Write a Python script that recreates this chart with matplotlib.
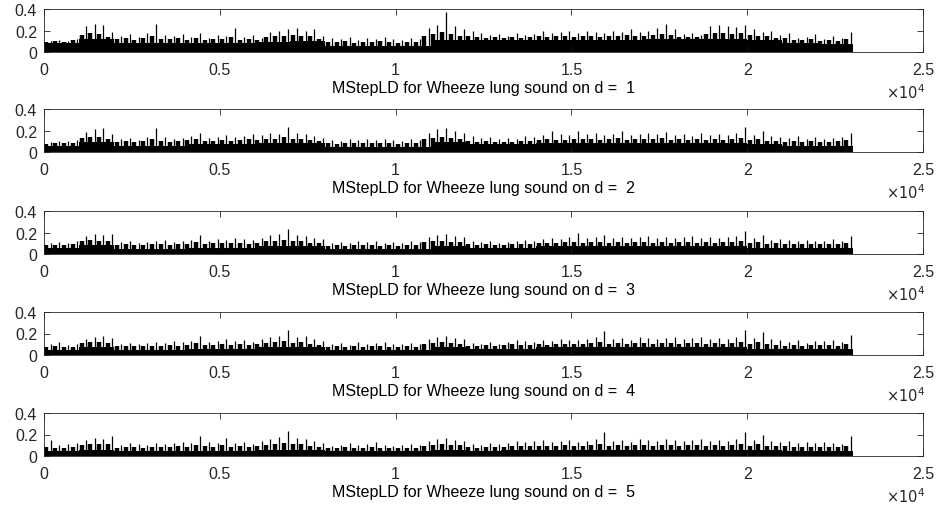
import numpy as np
import matplotlib
matplotlib.use("Agg")
import matplotlib.pyplot as plt

plt.rcParams["font.family"] = ["Liberation Sans", "DejaVu Sans"]

# segment widths (samples): peaks/comb per 250 samples, solid floor per 1000
SEG = 250
BASE_SEG = 1000

peaks_d1 = [0.10, 0.11, 0.10, 0.12, 0.24, 0.26, 0.25, 0.19, 0.15, 0.17, 0.14, 0.18,
            0.26, 0.16, 0.15, 0.17, 0.14, 0.18, 0.13, 0.16, 0.15, 0.22, 0.14, 0.16,
            0.13, 0.19, 0.20, 0.21, 0.22, 0.20, 0.21, 0.15, 0.13, 0.12, 0.14, 0.11,
            0.13, 0.12, 0.14, 0.12, 0.11, 0.13, 0.12, 0.22, 0.25, 0.37, 0.24, 0.21,
            0.20, 0.18, 0.16, 0.17, 0.15, 0.18, 0.16, 0.17, 0.20, 0.18, 0.19, 0.20,
            0.18, 0.20, 0.19, 0.18, 0.20, 0.19, 0.21, 0.19, 0.20, 0.22, 0.26, 0.21,
            0.17, 0.18, 0.16, 0.24, 0.25, 0.24, 0.23, 0.25, 0.21, 0.19, 0.20, 0.16,
            0.18, 0.13, 0.14, 0.17, 0.12, 0.15, 0.13, 0.19]
peaks_d2 = [0.09, 0.10, 0.10, 0.11, 0.19, 0.21, 0.22, 0.17, 0.12, 0.13, 0.11, 0.14,
            0.22, 0.14, 0.12, 0.13, 0.15, 0.18, 0.13, 0.14, 0.16, 0.14, 0.15, 0.17,
            0.16, 0.18, 0.17, 0.23, 0.18, 0.17, 0.15, 0.13, 0.11, 0.10, 0.12, 0.11,
            0.12, 0.11, 0.12, 0.11, 0.10, 0.12, 0.11, 0.18, 0.21, 0.22, 0.20, 0.18,
            0.15, 0.13, 0.14, 0.12, 0.13, 0.12, 0.15, 0.14, 0.16, 0.20, 0.17, 0.16,
            0.20, 0.17, 0.18, 0.16, 0.17, 0.20, 0.16, 0.17, 0.18, 0.17, 0.19, 0.16,
            0.17, 0.15, 0.18, 0.16, 0.17, 0.16, 0.18, 0.23, 0.16, 0.20, 0.15, 0.14,
            0.13, 0.15, 0.12, 0.14, 0.12, 0.13, 0.14, 0.18]
peaks_d3 = [0.10, 0.11, 0.10, 0.12, 0.17, 0.19, 0.18, 0.19, 0.11, 0.12, 0.10, 0.11,
            0.12, 0.13, 0.11, 0.12, 0.13, 0.18, 0.12, 0.14, 0.13, 0.15, 0.14, 0.13,
            0.15, 0.18, 0.19, 0.23, 0.18, 0.17, 0.15, 0.14, 0.10, 0.11, 0.10, 0.12,
            0.11, 0.12, 0.10, 0.11, 0.10, 0.12, 0.11, 0.16, 0.18, 0.19, 0.17, 0.16,
            0.12, 0.11, 0.12, 0.10, 0.11, 0.12, 0.13, 0.12, 0.14, 0.15, 0.14, 0.16,
            0.20, 0.15, 0.16, 0.18, 0.15, 0.16, 0.15, 0.16, 0.17, 0.15, 0.16, 0.15,
            0.16, 0.17, 0.15, 0.16, 0.15, 0.16, 0.17, 0.21, 0.15, 0.18, 0.13, 0.14,
            0.13, 0.12, 0.13, 0.12, 0.12, 0.14, 0.12, 0.17]
peaks_d4 = [0.10, 0.12, 0.09, 0.10, 0.15, 0.17, 0.18, 0.16, 0.10, 0.11, 0.10, 0.11,
            0.12, 0.11, 0.13, 0.12, 0.13, 0.18, 0.12, 0.13, 0.15, 0.13, 0.14, 0.12,
            0.15, 0.17, 0.18, 0.23, 0.17, 0.18, 0.15, 0.13, 0.10, 0.11, 0.09, 0.12,
            0.10, 0.11, 0.12, 0.10, 0.10, 0.11, 0.10, 0.15, 0.17, 0.18, 0.16, 0.15,
            0.11, 0.10, 0.12, 0.10, 0.12, 0.14, 0.13, 0.12, 0.14, 0.13, 0.15, 0.14,
            0.14, 0.15, 0.17, 0.22, 0.15, 0.16, 0.14, 0.17, 0.16, 0.15, 0.16, 0.17,
            0.15, 0.16, 0.17, 0.15, 0.16, 0.15, 0.17, 0.23, 0.16, 0.21, 0.15, 0.14,
            0.12, 0.14, 0.11, 0.13, 0.13, 0.14, 0.12, 0.19]
peaks_d5 = [0.15, 0.10, 0.11, 0.12, 0.15, 0.17, 0.16, 0.19, 0.10, 0.12, 0.11, 0.10,
            0.12, 0.11, 0.12, 0.13, 0.12, 0.19, 0.13, 0.12, 0.17, 0.12, 0.13, 0.11,
            0.14, 0.16, 0.18, 0.23, 0.17, 0.16, 0.14, 0.12, 0.09, 0.10, 0.12, 0.10,
            0.11, 0.13, 0.10, 0.09, 0.10, 0.11, 0.10, 0.14, 0.16, 0.17, 0.15, 0.14,
            0.11, 0.10, 0.12, 0.11, 0.12, 0.14, 0.13, 0.14, 0.15, 0.13, 0.14, 0.15,
            0.13, 0.14, 0.16, 0.22, 0.14, 0.15, 0.13, 0.16, 0.15, 0.14, 0.16, 0.15,
            0.14, 0.15, 0.16, 0.14, 0.15, 0.14, 0.16, 0.22, 0.15, 0.20, 0.14, 0.13,
            0.14, 0.12, 0.13, 0.12, 0.13, 0.12, 0.11, 0.19]

comb_d1 = [0.09, 0.10, 0.09, 0.11, 0.16, 0.18, 0.17, 0.14, 0.12, 0.13, 0.11, 0.13,
           0.15, 0.12, 0.12, 0.13, 0.11, 0.13, 0.11, 0.12, 0.12, 0.14, 0.11, 0.12,
           0.11, 0.14, 0.15, 0.15, 0.16, 0.15, 0.15, 0.12, 0.09, 0.09, 0.10, 0.08,
           0.09, 0.09, 0.10, 0.09, 0.08, 0.09, 0.09, 0.15, 0.17, 0.19, 0.17, 0.15,
           0.15, 0.14, 0.13, 0.14, 0.13, 0.14, 0.13, 0.14, 0.15, 0.14, 0.15, 0.15,
           0.14, 0.15, 0.15, 0.14, 0.15, 0.15, 0.16, 0.15, 0.15, 0.16, 0.17, 0.16,
           0.14, 0.14, 0.14, 0.17, 0.18, 0.18, 0.17, 0.18, 0.16, 0.15, 0.15, 0.13,
           0.13, 0.11, 0.11, 0.12, 0.10, 0.11, 0.10, 0.12]
comb_d2 = [0.07, 0.08, 0.08, 0.08, 0.13, 0.14, 0.14, 0.12, 0.09, 0.10, 0.09, 0.10,
           0.12, 0.10, 0.09, 0.10, 0.11, 0.12, 0.10, 0.10, 0.11, 0.10, 0.11, 0.12,
           0.11, 0.12, 0.12, 0.14, 0.12, 0.12, 0.11, 0.10, 0.08, 0.07, 0.08, 0.08,
           0.08, 0.08, 0.08, 0.08, 0.07, 0.08, 0.08, 0.12, 0.13, 0.14, 0.13, 0.12,
           0.10, 0.09, 0.10, 0.09, 0.09, 0.09, 0.10, 0.10, 0.11, 0.12, 0.11, 0.11,
           0.12, 0.12, 0.12, 0.11, 0.12, 0.13, 0.11, 0.12, 0.12, 0.12, 0.13, 0.11,
           0.12, 0.11, 0.12, 0.11, 0.12, 0.11, 0.12, 0.13, 0.11, 0.12, 0.10, 0.10,
           0.09, 0.10, 0.09, 0.10, 0.09, 0.09, 0.10, 0.11]
comb_d3 = [0.08, 0.08, 0.08, 0.09, 0.12, 0.13, 0.12, 0.12, 0.08, 0.09, 0.08, 0.08,
           0.09, 0.09, 0.08, 0.09, 0.09, 0.11, 0.09, 0.10, 0.10, 0.10, 0.10, 0.09,
           0.10, 0.12, 0.12, 0.13, 0.12, 0.12, 0.10, 0.10, 0.07, 0.08, 0.07, 0.08,
           0.08, 0.08, 0.07, 0.08, 0.07, 0.08, 0.08, 0.11, 0.12, 0.12, 0.11, 0.11,
           0.09, 0.08, 0.09, 0.08, 0.08, 0.09, 0.09, 0.09, 0.10, 0.10, 0.10, 0.11,
           0.11, 0.10, 0.11, 0.11, 0.10, 0.11, 0.10, 0.11, 0.11, 0.10, 0.11, 0.10,
           0.11, 0.11, 0.10, 0.11, 0.10, 0.11, 0.11, 0.12, 0.10, 0.11, 0.09, 0.10,
           0.09, 0.09, 0.09, 0.09, 0.09, 0.09, 0.09, 0.10]
comb_d4 = [0.07, 0.08, 0.07, 0.07, 0.11, 0.12, 0.12, 0.11, 0.08, 0.08, 0.08, 0.08,
           0.08, 0.08, 0.09, 0.08, 0.09, 0.11, 0.09, 0.09, 0.10, 0.09, 0.10, 0.09,
           0.10, 0.11, 0.12, 0.13, 0.11, 0.12, 0.10, 0.09, 0.07, 0.08, 0.07, 0.08,
           0.07, 0.08, 0.08, 0.07, 0.07, 0.08, 0.07, 0.10, 0.11, 0.12, 0.11, 0.10,
           0.08, 0.08, 0.09, 0.08, 0.09, 0.10, 0.09, 0.09, 0.10, 0.09, 0.10, 0.10,
           0.10, 0.10, 0.11, 0.12, 0.10, 0.11, 0.10, 0.11, 0.11, 0.10, 0.11, 0.11,
           0.10, 0.11, 0.11, 0.10, 0.11, 0.10, 0.11, 0.12, 0.10, 0.12, 0.10, 0.09,
           0.08, 0.09, 0.08, 0.09, 0.09, 0.09, 0.08, 0.10]
comb_d5 = [0.08, 0.07, 0.07, 0.08, 0.10, 0.11, 0.11, 0.11, 0.07, 0.08, 0.08, 0.07,
           0.08, 0.08, 0.08, 0.09, 0.08, 0.10, 0.09, 0.08, 0.10, 0.08, 0.09, 0.08,
           0.09, 0.10, 0.11, 0.12, 0.11, 0.11, 0.09, 0.08, 0.07, 0.07, 0.08, 0.07,
           0.07, 0.08, 0.07, 0.07, 0.07, 0.07, 0.07, 0.09, 0.10, 0.11, 0.10, 0.10,
           0.08, 0.07, 0.08, 0.08, 0.08, 0.09, 0.09, 0.09, 0.09, 0.09, 0.09, 0.10,
           0.09, 0.09, 0.10, 0.11, 0.09, 0.10, 0.09, 0.10, 0.10, 0.09, 0.10, 0.10,
           0.09, 0.10, 0.10, 0.09, 0.10, 0.09, 0.10, 0.11, 0.09, 0.11, 0.09, 0.09,
           0.09, 0.08, 0.08, 0.08, 0.08, 0.08, 0.08, 0.09]

base_d1 = [0.08, 0.12, 0.08, 0.08, 0.08, 0.08, 0.09, 0.10, 0.06, 0.06, 0.06, 0.11,
           0.11, 0.11, 0.11, 0.11, 0.11, 0.12, 0.12, 0.12, 0.11, 0.08, 0.07]
base_d2 = [0.06, 0.09, 0.06, 0.06, 0.07, 0.07, 0.08, 0.08, 0.05, 0.05, 0.05, 0.09,
           0.07, 0.07, 0.08, 0.08, 0.08, 0.08, 0.08, 0.08, 0.07, 0.06, 0.06]
base_d3 = [0.06, 0.08, 0.05, 0.05, 0.06, 0.06, 0.07, 0.07, 0.05, 0.05, 0.05, 0.07,
           0.06, 0.06, 0.07, 0.07, 0.07, 0.07, 0.07, 0.07, 0.06, 0.06, 0.06]
base_d4 = [0.05, 0.07, 0.05, 0.05, 0.06, 0.06, 0.07, 0.07, 0.05, 0.05, 0.05, 0.07,
           0.06, 0.06, 0.07, 0.07, 0.07, 0.07, 0.07, 0.07, 0.06, 0.06, 0.06]
base_d5 = [0.05, 0.06, 0.05, 0.05, 0.05, 0.05, 0.06, 0.06, 0.05, 0.05, 0.05, 0.06,
           0.05, 0.06, 0.06, 0.06, 0.06, 0.06, 0.06, 0.06, 0.06, 0.05, 0.05]

depths = [1, 2, 3, 4, 5]
peaks = [peaks_d1, peaks_d2, peaks_d3, peaks_d4, peaks_d5]
combs = [comb_d1, comb_d2, comb_d3, comb_d4, comb_d5]
bases = [base_d1, base_d2, base_d3, base_d4, base_d5]

x_ticks = [0, 5000, 10000, 15000, 20000, 25000]
x_ticklabels = ["0", "0.5", "1", "1.5", "2", "2.5"]
y_ticks = [0, 0.2, 0.4]
y_ticklabels = ["0", "0.2", "0.4"]

W, H = 942, 506
fig = plt.figure(figsize=(W / 100, H / 100), dpi=100)

left, right = 44, 923
bottoms = [53, 153, 255, 356, 457]
ax_h = 43
edge = "#262626"
fs = 11.5

for d, pk, cb, bs, yb in zip(depths, peaks, combs, bases, bottoms):
    ax = fig.add_axes([left / W, 1 - yb / H, (right - left) / W, ax_h / H])

    # solid floor of the signal
    be = np.arange(len(bs) + 1) * BASE_SEG
    bv = np.append(bs, bs[-1])
    ax.fill_between(be, 0, bv, step="post", color="black", lw=0)

    # dense comb and thin spikes inside each segment
    seg0 = np.arange(len(pk)) * SEG
    ax.vlines(seg0 + 70, 0, cb, color="black", lw=3.2)
    ax.vlines(seg0 + 190, 0, pk, color="black", lw=0.9)

    ax.set_xlim(0, 25000)
    ax.set_ylim(0, 0.4)
    ax.set_xticks(x_ticks)
    ax.set_xticklabels(x_ticklabels)
    ax.set_yticks(y_ticks)
    ax.set_yticklabels(y_ticklabels)
    ax.tick_params(direction="in", top=True, right=True, length=4, width=0.6,
                   labelsize=fs, colors=edge)
    ax.tick_params(axis="x", pad=7.5)
    ax.tick_params(axis="y", pad=5)
    for s in ax.spines.values():
        s.set_color(edge)
        s.set_linewidth(0.6)
    ax.set_xlabel(f"MStepLD for Wheeze lung sound on d =  {d}", fontsize=fs,
                  color="black", labelpad=2)
    ax.text(1.002, -0.92, r"$\times10^{4}$", transform=ax.transAxes, ha="right",
            va="center", fontsize=10.5, color=edge)

fig.savefig("out.png", dpi=100)
